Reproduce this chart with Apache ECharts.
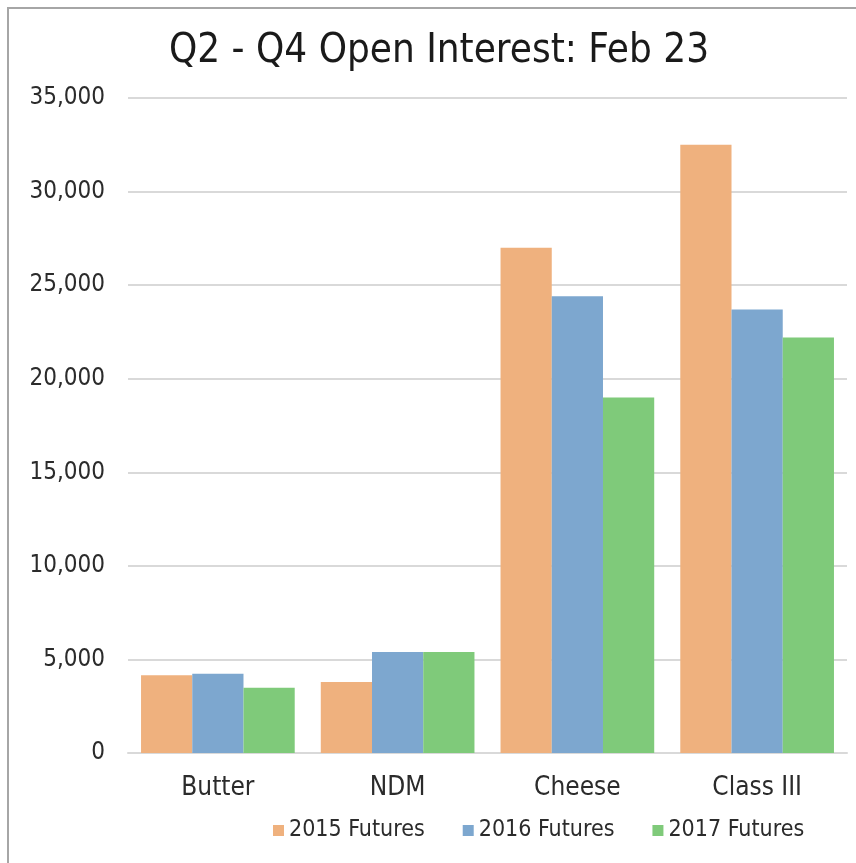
<!DOCTYPE html>
<html>
<head>
<meta charset="utf-8">
<title>Q2 - Q4 Open Interest: Feb 23</title>
<script src="https://cdn.jsdelivr.net/npm/echarts@6/dist/echarts.min.js"></script>
<style>
  html, body { margin: 0; padding: 0; background: #fff; }
  #chart { width: 856px; height: 863px; }
</style>
</head>
<body>
<div id="chart"></div>
<script>
const categories = ['Butter', 'NDM', 'Cheese', 'Class III']
const futures2015 = [4150, 3800, 27000, 32500]
const futures2016 = [4230, 5400, 24400, 23700]
const futures2017 = [3480, 5400, 19000, 22200]
const seriesNames = ['2015 Futures', '2016 Futures', '2017 Futures']

const colors = ['#efb17e', '#7da7cf', '#7fca7a']
const font = 'DejaVu Sans Condensed, DejaVu Sans, sans-serif'

const chart = echarts.init(document.getElementById('chart'))

function bar(name, data, i) {
  return {
    name: name,
    type: 'bar',
    data: data,
    barGap: 0,
    barCategoryGap: '14.5%',
    itemStyle: { color: colors[i] },
    animation: false
  }
}

chart.setOption({
  backgroundColor: '#fff',
  color: colors,
  title: {
    text: 'Q2 - Q4 Open Interest: Feb 23',
    left: 434,
    textAlign: 'center',
    top: 27,
    textStyle: { fontFamily: font, fontSize: 40, fontWeight: 'normal', color: '#1a1a1a' }
  },
  // frame round the chart (only left/top visible in the picture)
  graphic: [{
    type: 'rect',
    shape: { x: 8, y: 8, width: 900, height: 900 },
    style: { fill: 'none', stroke: '#a6a6a6', lineWidth: 2 },
    silent: true
  }],
  legend: {
    bottom: 16,
    left: 268,
    itemWidth: 11,
    itemHeight: 11,
    itemGap: 38,
    icon: 'rect',
    textStyle: { fontFamily: font, fontSize: 23, color: '#2b2b2b' },
    data: seriesNames
  },
  grid: { left: 128, right: 9, top: 98, bottom: 110 },
  xAxis: {
    type: 'category',
    data: categories,
    axisTick: { show: false },
    axisLine: { lineStyle: { color: '#d9d9d9', width: 2 } },
    axisLabel: { fontFamily: font, fontSize: 26, color: '#2b2b2b', margin: 22 }
  },
  yAxis: {
    type: 'value',
    min: 0,
    max: 35000,
    interval: 5000,
    axisLine: { show: false },
    axisTick: { show: false },
    splitLine: { lineStyle: { color: '#d9d9d9', width: 2 } },
    axisLabel: {
      fontFamily: font,
      fontSize: 24,
      color: '#2b2b2b',
      margin: 23,
      formatter: v => v.toLocaleString('en-US')
    }
  },
  series: [
    bar(seriesNames[0], futures2015, 0),
    bar(seriesNames[1], futures2016, 1),
    bar(seriesNames[2], futures2017, 2)
  ]
})
</script>
</body>
</html>
